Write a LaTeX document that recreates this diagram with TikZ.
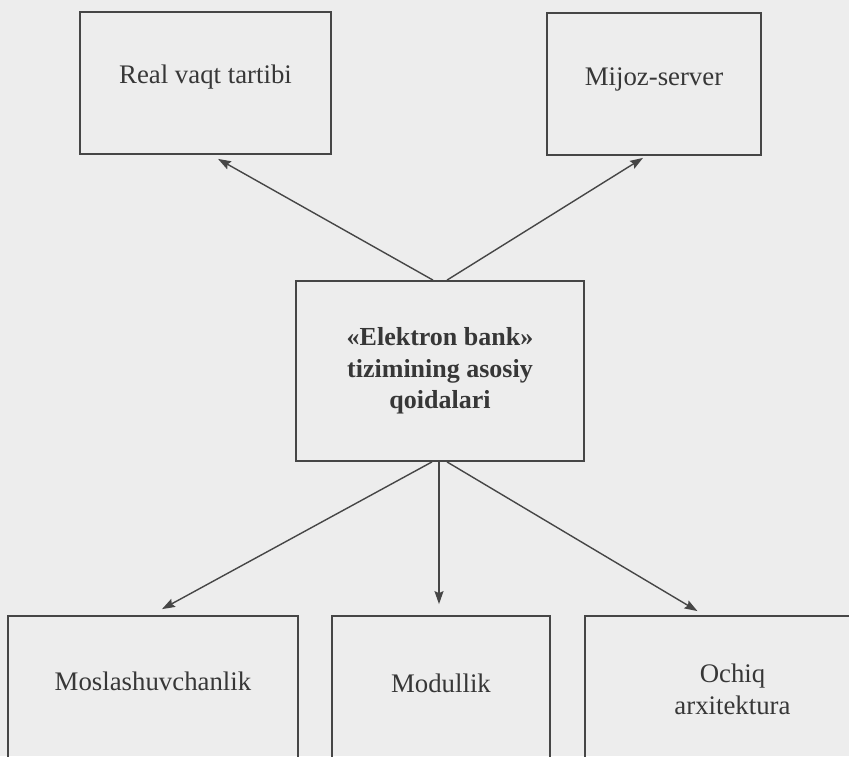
\documentclass[tikz,border=0pt]{standalone}
\usepackage{fontspec}
\setmainfont{Liberation Serif}
\usetikzlibrary{arrows.meta}
\definecolor{paper}{RGB}{237,237,237}
\definecolor{ink}{RGB}{70,70,70}
\definecolor{txt}{RGB}{55,55,55}
\tikzset{
  box/.style={draw=ink, line width=1.8pt, fill=none, rectangle, inner sep=0pt,
    align=center, text=txt, font=\fontsize{26.8}{32}\selectfont},
  arr/.style={draw=ink, line width=1.4pt, -{Stealth[length=13pt,width=9pt,inset=2pt]}}
}
\begin{document}
\begin{tikzpicture}[x=1pt,y=-1pt]
  \fill[paper] (0,0) rectangle (849,756);
  \useasboundingbox (0,0) rectangle (849,756);
  \clip (0,0) rectangle (849,756);

  % top row
  \node[box, minimum width=251pt, minimum height=142pt, text height=10pt, text depth=10pt]
        (real) at (205.5,83) {Real vaqt tartibi};
  \node[box, minimum width=214pt, minimum height=142pt, text height=11pt, text depth=9pt]
        (mijoz) at (654,84) {Mijoz-server};

  % central block
  \node[box, minimum width=288pt, minimum height=180pt,
        font=\fontsize{26}{31.5}\selectfont\bfseries] (core) at (440,371)
        {«Elektron bank»\\tizimining asosiy\\qoidalari};

  % bottom row
  \node[box, minimum width=290pt, minimum height=146pt, text height=11pt, text depth=9pt]
        (mosl) at (153,689) {Moslashuvchanlik};
  \node[box, minimum width=218pt, minimum height=146pt, text height=13pt, text depth=7pt]
        (modul) at (441,689) {Modullik};
  \node[box, minimum width=295pt, minimum height=146pt] (ochiq) at (732.5,689) {Ochiq\\arxitektura};

  % connectors
  \draw[arr] ([xshift=-7pt]core.north) -- ([xshift=12.5pt,yshift=-4pt]real.south);
  \draw[arr] ([xshift=7pt]core.north) -- ([xshift=-11pt,yshift=-2pt]mijoz.south);
  \draw[arr] ([xshift=-8pt]core.south) -- ([xshift=9pt,yshift=6pt]mosl.north);
  \draw[arr] ([xshift=-1pt]core.south) -- ([xshift=-2pt,yshift=11pt]modul.north);
  \draw[arr] ([xshift=7pt]core.south) -- ([xshift=-35pt,yshift=4pt]ochiq.north);
\end{tikzpicture}
\end{document}
